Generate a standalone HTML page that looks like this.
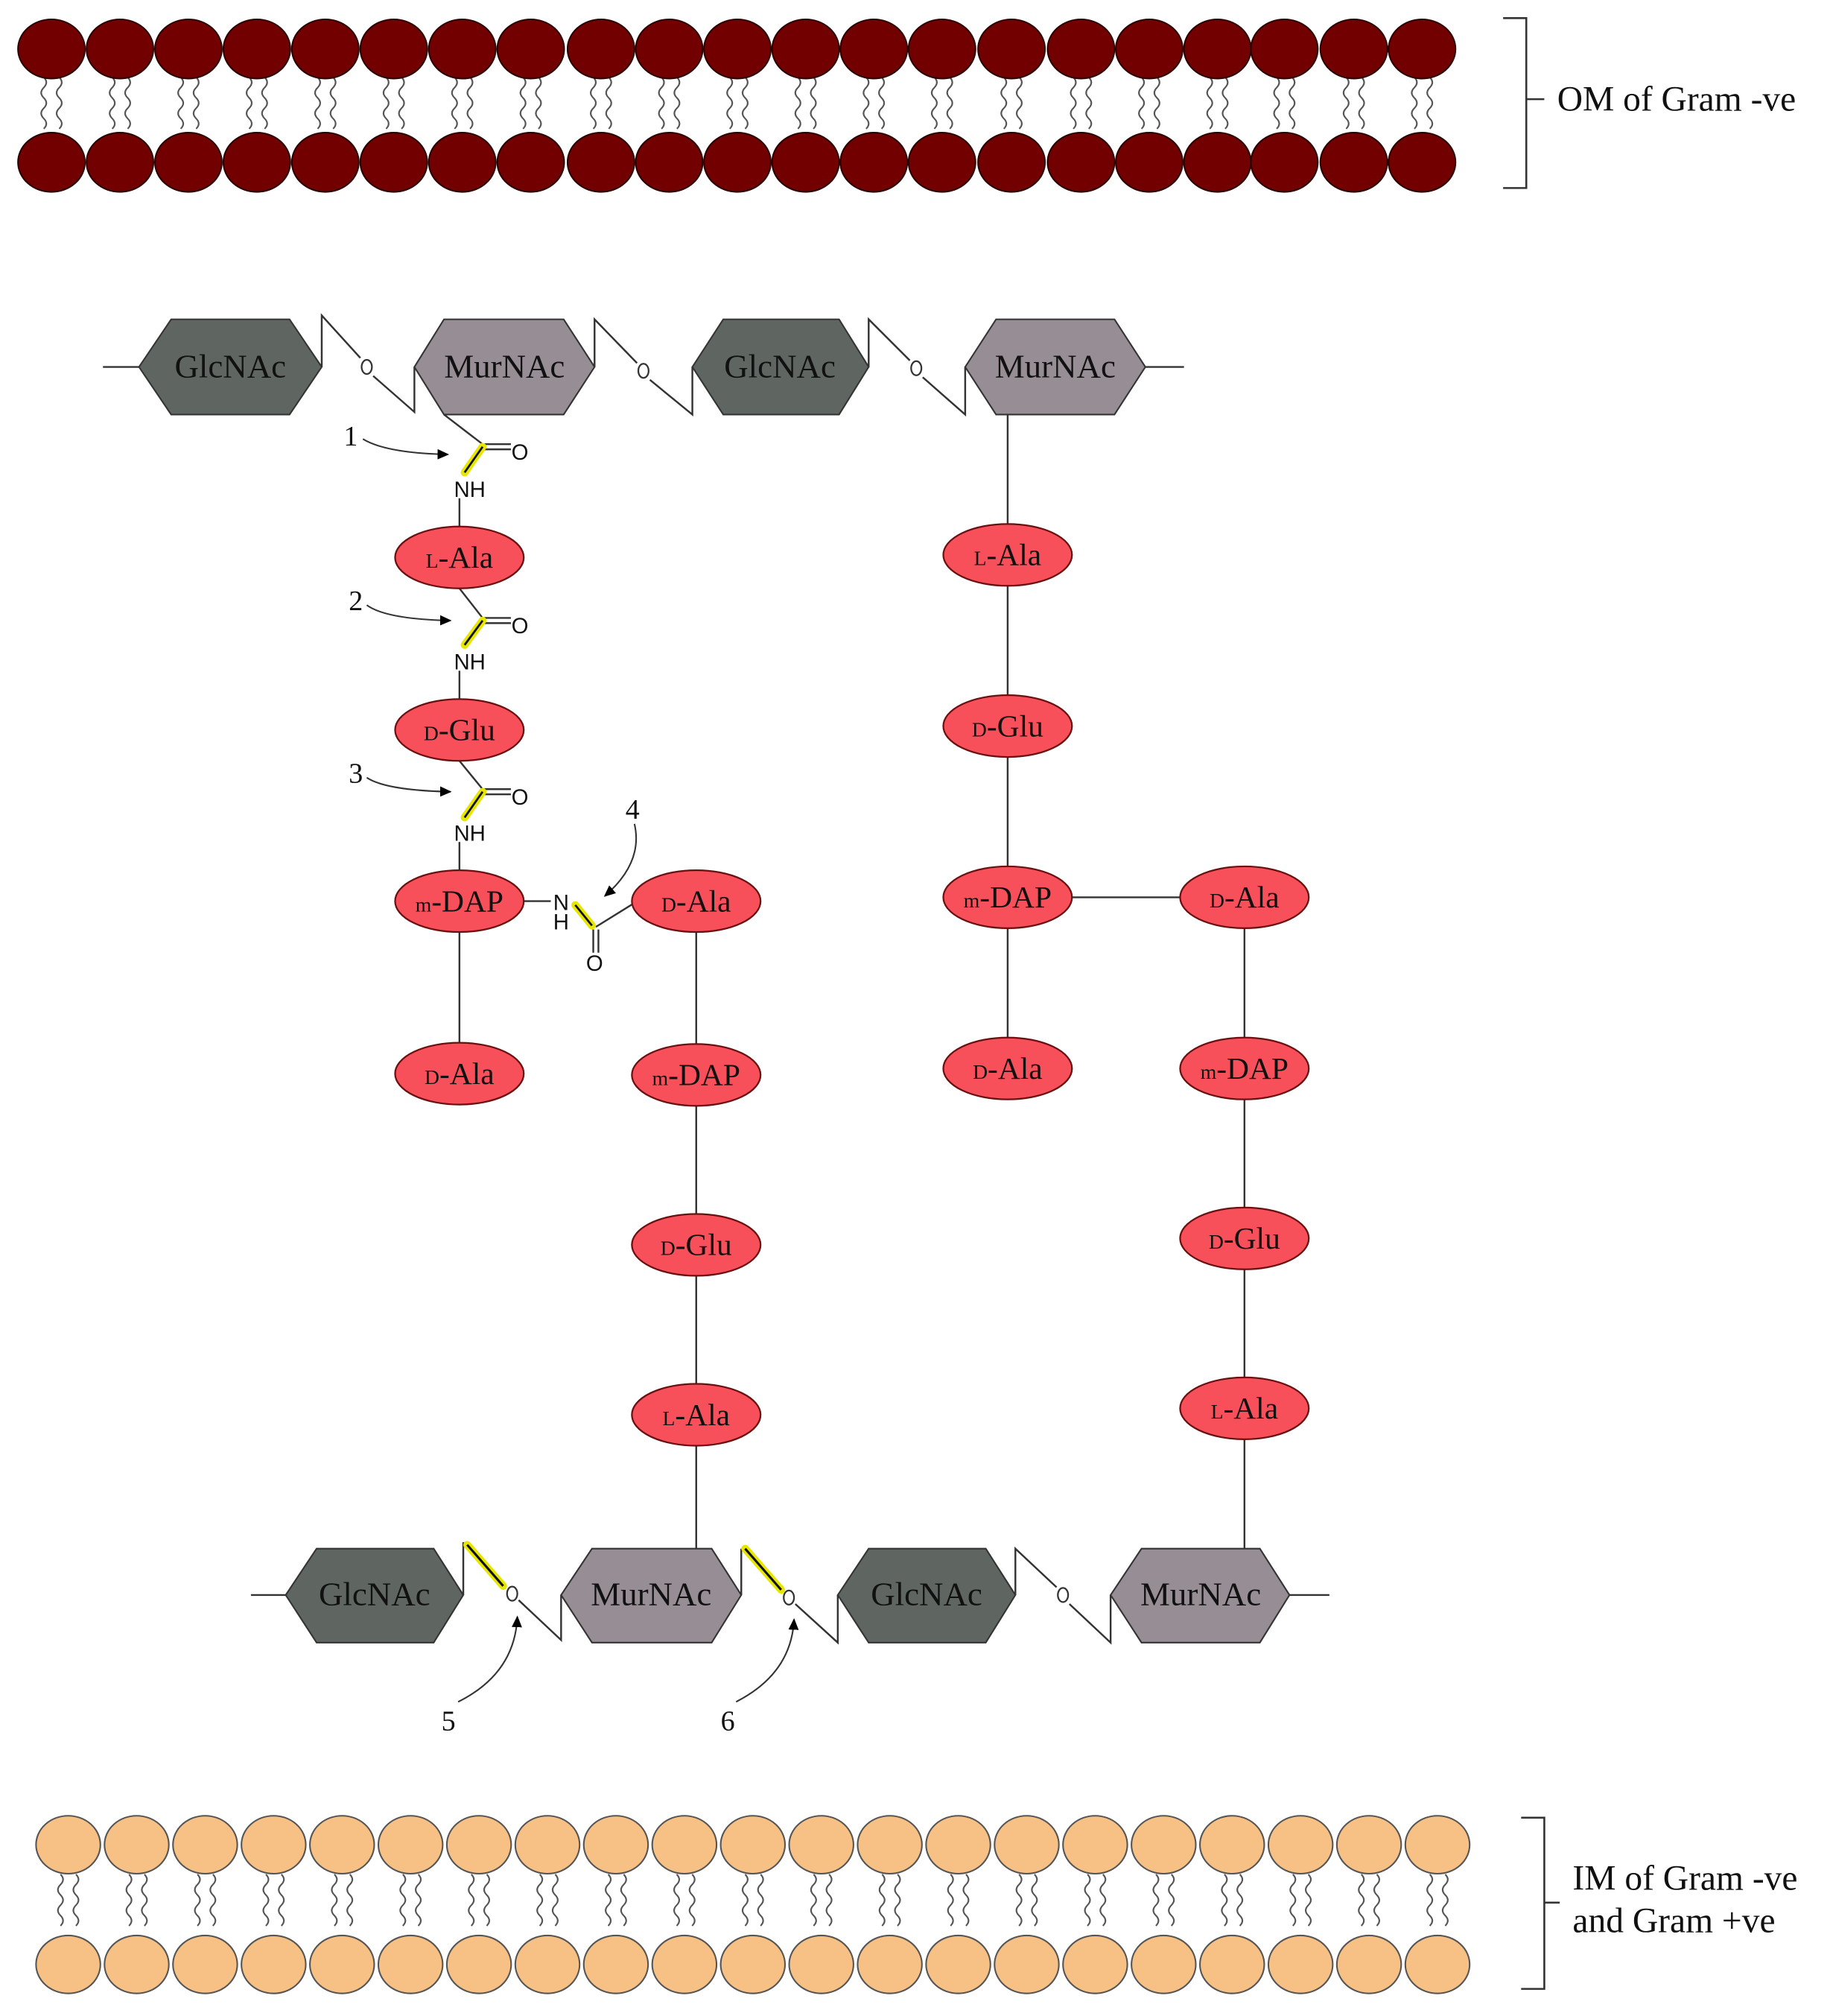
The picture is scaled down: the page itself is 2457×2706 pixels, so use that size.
<!DOCTYPE html>
<html><head><meta charset="utf-8"><style>html,body{margin:0;padding:0;background:#fff}svg{display:block}</style></head><body>
<svg width="2457" height="2706" viewBox="0 0 1422 1566" xmlns="http://www.w3.org/2000/svg" font-family="Liberation Serif, serif">
<defs>
<path id="w" d="M0 0 q4 4 0 8 q-4 4 0 8 q4 4 0 8 q-4 4 0 8 q4 4 0 8" fill="none" stroke="#555" stroke-width="1.2"/>
<g id="om">
<use href="#w" x="-6" y="60"/><use href="#w" x="6" y="60"/>
<ellipse cx="0" cy="38" rx="26" ry="23" fill="#730000" stroke="#2a0000" stroke-width="1.2"/>
<ellipse cx="0" cy="126" rx="26" ry="23" fill="#730000" stroke="#2a0000" stroke-width="1.2"/>
</g>
<g id="im">
<use href="#w" x="-6" y="1456"/><use href="#w" x="6" y="1456"/>
<ellipse cx="0" cy="1433" rx="25" ry="22.5" fill="#f7c185" stroke="#555" stroke-width="1.2"/>
<ellipse cx="0" cy="1526" rx="25" ry="22.5" fill="#f7c185" stroke="#555" stroke-width="1.2"/>
</g>
<marker id="ar" markerWidth="10" markerHeight="10" refX="8" refY="5" orient="auto" markerUnits="userSpaceOnUse"><path d="M0 1 L9 5 L0 9 Z" fill="#000"/></marker>
</defs>
<rect width="1422" height="1566" fill="#fff"/>
<use href="#om" x="40"/><use href="#om" x="93.2"/><use href="#om" x="146.4"/><use href="#om" x="199.6"/><use href="#om" x="252.8"/><use href="#om" x="306"/><use href="#om" x="359.2"/><use href="#om" x="412.4"/><use href="#om" x="467"/><use href="#om" x="520"/><use href="#om" x="573"/><use href="#om" x="626"/><use href="#om" x="679"/><use href="#om" x="732"/><use href="#om" x="786"/><use href="#om" x="840"/><use href="#om" x="893"/><use href="#om" x="946"/><use href="#om" x="998"/><use href="#om" x="1052"/><use href="#om" x="1105"/>
<use href="#im" x="53"/><use href="#im" x="106.2"/><use href="#im" x="159.4"/><use href="#im" x="212.6"/><use href="#im" x="265.8"/><use href="#im" x="319"/><use href="#im" x="372.2"/><use href="#im" x="425.4"/><use href="#im" x="478.6"/><use href="#im" x="531.8"/><use href="#im" x="585"/><use href="#im" x="638.2"/><use href="#im" x="691.4"/><use href="#im" x="744.6"/><use href="#im" x="797.8"/><use href="#im" x="851"/><use href="#im" x="904.2"/><use href="#im" x="957.4"/><use href="#im" x="1010.6"/><use href="#im" x="1063.8"/><use href="#im" x="1117"/>
<g stroke="#333" stroke-width="1.5" fill="none">
<path d="M1168 14 H1186 V146 H1168 M1186 77 H1200"/>
<path d="M1182 1412 H1200 V1545 H1182 M1200 1478 H1212"/>
</g>
<g font-size="27.5" fill="#111">
<text x="1210" y="86">OM of Gram -ve</text>
<text x="1222" y="1468">IM of Gram -ve</text>
<text x="1222" y="1501">and Gram +ve</text>
</g>
<g stroke="#333" stroke-width="1.4" fill="none">
<path d="M80 285 H108"/><path d="M890 285 H920"/>
<path d="M250 285 V245 L280 278 M290 292 L322 320 V285"/>
<path d="M462 285 V248 L495 282 M505 295 L538 322 V285"/>
<path d="M675 285 V248 L707 280 M717 293 L750 322 V285"/>
<path d="M195 1239 H222"/><path d="M1002 1239 H1033"/>
<path d="M360 1239 V1198 M403 1243 L436 1274 V1239"/>
<path d="M576 1239 V1203 M618 1246 L651 1276 V1239"/>
<path d="M789 1239 V1203 L821 1233 M831 1246 L863 1276 V1239"/>
</g>
<g stroke="#e6e600" stroke-width="6" stroke-linecap="round"><path d="M363 1200 L391 1232"/><path d="M579 1203 L607 1235"/></g>
<g stroke="#111" stroke-width="1.8"><path d="M363 1200 L391 1232"/><path d="M579 1203 L607 1235"/></g>
<g fill="none" stroke="#333" stroke-width="1.3">
<ellipse cx="285" cy="285" rx="4" ry="5.5"/><ellipse cx="500" cy="288" rx="4" ry="5.5"/><ellipse cx="712" cy="286" rx="4" ry="5.5"/>
<ellipse cx="398" cy="1238" rx="4" ry="5.5"/><ellipse cx="613" cy="1241" rx="4" ry="5.5"/><ellipse cx="826" cy="1239" rx="4" ry="5.5"/>
</g>
<g stroke="#333" stroke-width="1.2">
<polygon points="108,285 133,248 225,248 250,285 225,322 133,322" fill="#5f6662"/>
<polygon points="322,285 345,248 438,248 462,285 438,322 345,322" fill="#978d95"/>
<polygon points="538,285 562,248 652,248 675,285 652,322 562,322" fill="#5f6662"/>
<polygon points="750,285 774,248 866,248 890,285 866,322 774,322" fill="#978d95"/>
<polygon points="222,1239 246,1203 337,1203 360,1239 337,1276 246,1276" fill="#5f6662"/>
<polygon points="436,1239 460,1203 553,1203 576,1239 553,1276 460,1276" fill="#978d95"/>
<polygon points="651,1239 675,1203 766,1203 789,1239 766,1276 675,1276" fill="#5f6662"/>
<polygon points="863,1239 887,1203 979,1203 1002,1239 979,1276 887,1276" fill="#978d95"/>
</g>
<g font-size="26" text-anchor="middle" fill="#111">
<text x="179" y="293">GlcNAc</text><text x="392" y="293">MurNAc</text><text x="606" y="293">GlcNAc</text><text x="820" y="293">MurNAc</text>
<text x="291" y="1247">GlcNAc</text><text x="506" y="1247">MurNAc</text><text x="720" y="1247">GlcNAc</text><text x="933" y="1247">MurNAc</text>
</g>
<g stroke="#333" stroke-width="1.4" fill="none">
<path d="M345 322 L375 345 H397 M375 349 H397"/>
<path d="M357 387 V409"/>
<path d="M357 457 L375 480 H397 M375 484 H397"/>
<path d="M357 521 V543"/>
<path d="M357 591 L375 613 H397 M375 617 H397"/>
<path d="M357 654 V676 M357 724 V810"/>
<path d="M407 700 H428 M463 720 L492 702 M461 722 V740 M465 722 V740"/>
<path d="M541 724 V811 M541 859 V943 M541 991 V1075 M541 1123 V1203"/>
<path d="M783 322 V407 M783 455 V540 M783 588 V673 M783 721 V806 M833 697 H918"/>
<path d="M967 721 V806 M967 854 V938 M967 986 V1070 M967 1118 V1203"/>
</g>
<g stroke="#e6e600" stroke-width="6" stroke-linecap="round"><path d="M375 347 L361 367"/><path d="M375 482 L361 501"/><path d="M375 615 L361 635"/><path d="M447 703 L460 719"/></g>
<g stroke="#111" stroke-width="1.6"><path d="M375 347 L361 367"/><path d="M375 482 L361 501"/><path d="M375 615 L361 635"/><path d="M447 703 L460 719"/></g>
<g font-family="Liberation Sans, sans-serif" font-size="17" fill="#111" text-anchor="middle">
<text x="404" y="357">O</text><text x="365" y="386">NH</text>
<text x="404" y="492">O</text><text x="365" y="520">NH</text>
<text x="404" y="625">O</text><text x="365" y="653">NH</text>
<text x="436" y="707">N</text><text x="436" y="722">H</text><text x="462" y="754">O</text>
</g>
<g fill="#f7505a" stroke="#6a1010" stroke-width="1.3">
<ellipse cx="357" cy="433" rx="50" ry="24"/><ellipse cx="357" cy="567" rx="50" ry="24"/><ellipse cx="357" cy="700" rx="50" ry="24"/><ellipse cx="357" cy="834" rx="50" ry="24"/>
<ellipse cx="541" cy="700" rx="50" ry="24"/><ellipse cx="541" cy="835" rx="50" ry="24"/><ellipse cx="541" cy="967" rx="50" ry="24"/><ellipse cx="541" cy="1099" rx="50" ry="24"/>
<ellipse cx="783" cy="431" rx="50" ry="24"/><ellipse cx="783" cy="564" rx="50" ry="24"/><ellipse cx="783" cy="697" rx="50" ry="24"/><ellipse cx="783" cy="830" rx="50" ry="24"/>
<ellipse cx="967" cy="697" rx="50" ry="24"/><ellipse cx="967" cy="830" rx="50" ry="24"/><ellipse cx="967" cy="962" rx="50" ry="24"/><ellipse cx="967" cy="1094" rx="50" ry="24"/>
</g>
<g font-size="24" fill="#111" text-anchor="middle">
<text x="357" y="441"><tspan font-size="16">L</tspan>-Ala</text>
<text x="357" y="575"><tspan font-size="16">D</tspan>-Glu</text>
<text x="357" y="708"><tspan font-size="16">m</tspan>-DAP</text>
<text x="357" y="842"><tspan font-size="16">D</tspan>-Ala</text>
<text x="541" y="708"><tspan font-size="16">D</tspan>-Ala</text>
<text x="541" y="843"><tspan font-size="16">m</tspan>-DAP</text>
<text x="541" y="975"><tspan font-size="16">D</tspan>-Glu</text>
<text x="541" y="1107"><tspan font-size="16">L</tspan>-Ala</text>
<text x="783" y="439"><tspan font-size="16">L</tspan>-Ala</text>
<text x="783" y="572"><tspan font-size="16">D</tspan>-Glu</text>
<text x="783" y="705"><tspan font-size="16">m</tspan>-DAP</text>
<text x="783" y="838"><tspan font-size="16">D</tspan>-Ala</text>
<text x="967" y="705"><tspan font-size="16">D</tspan>-Ala</text>
<text x="967" y="838"><tspan font-size="16">m</tspan>-DAP</text>
<text x="967" y="970"><tspan font-size="16">D</tspan>-Glu</text>
<text x="967" y="1102"><tspan font-size="16">L</tspan>-Ala</text>
</g>
<g stroke="#333" stroke-width="1.2" fill="none" marker-end="url(#ar)">
<path d="M282 341 Q300 352 348 353"/>
<path d="M285 470 Q300 481 350 482"/>
<path d="M285 604 Q300 614 350 615"/>
<path d="M493 640 Q500 670 470 696"/>
<path d="M356 1322 Q400 1300 402 1256"/>
<path d="M572 1322 Q615 1300 617 1258"/>
</g>
<g font-size="22" fill="#111">
<text x="267" y="346">1</text><text x="271" y="474">2</text><text x="271" y="608">3</text><text x="486" y="636">4</text>
<text x="343" y="1344">5</text><text x="560" y="1344">6</text>
</g>
</svg>
</body></html>
